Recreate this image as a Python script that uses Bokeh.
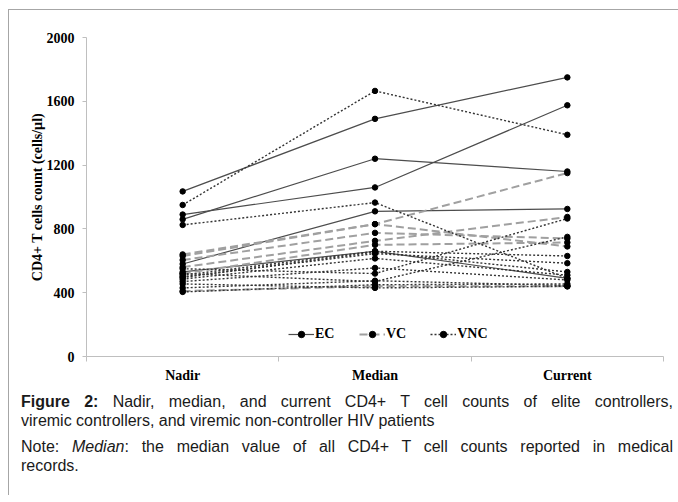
from bokeh.plotting import figure
from bokeh.models import Range1d, FixedTicker, Legend, LegendItem, ColumnDataSource, Div
from bokeh.layouts import column
from bokeh.embed import file_html
from bokeh.resources import INLINE

categories = ["Nadir", "Median", "Current"]

# Elite controllers (EC)
ec_nadir = [1035, 890, 860, 580, 530]
ec_median = [1490, 1060, 1240, 910, 660]
ec_current = [1750, 1575, 1160, 925, 490]

# Viremic controllers (VC)
vc_nadir = [640, 630, 605, 560, 520, 410]
vc_median = [830, 830, 775, 725, 700, 440]
vc_current = [1150, 690, 740, 875, 715, 440]

# Viremic non-controllers (VNC)
vnc_nadir = [950, 825, 550, 520, 510, 500, 495, 485, 470, 455, 430, 405]
vnc_median = [1665, 965, 520, 470, 660, 645, 655, 615, 555, 430, 475, 450]
vnc_current = [1390, 490, 865, 750, 630, 585, 530, 510, 480, 440, 445, 455]

y_ticks = [0, 400, 800, 1200, 1600, 2000]

x_pos = [i + 0.5 for i in range(len(categories))]
x_bounds = [float(i) for i in range(len(categories) + 1)]

p = figure(width=660, height=375, x_range=Range1d(0, len(categories)),
           y_range=Range1d(0, 2000), output_backend="svg", toolbar_location=None,
           min_border_left=77, min_border_right=6, min_border_top=27,
           min_border_bottom=27)
p.outline_line_color = None
p.xgrid.visible = False
p.ygrid.visible = False
p.background_fill_color = "white"
p.border_fill_color = "white"


def add_series(nadir, median, current, color, width, dash):
    xs, ys, px, py = [], [], [], []
    for a, b, c in zip(nadir, median, current):
        xs.append(x_pos)
        ys.append([a, b, c])
        px.extend(x_pos)
        py.extend([a, b, c])
    src = ColumnDataSource(dict(xs=xs, ys=ys))
    lr = p.multi_line("xs", "ys", source=src, line_color=color,
                      line_width=width, line_dash=dash)
    sr = p.scatter(px, py, size=5.5, fill_color="black", line_color="black")
    return [lr, sr]


ec_r = add_series(ec_nadir, ec_median, ec_current, "#4d4d4d", 1.2, "solid")
vc_r = add_series(vc_nadir, vc_median, vc_current, "#a0a0a0", 2, "8 4")
vnc_r = add_series(vnc_nadir, vnc_median, vnc_current, "#333333", 1.4, "2 2")

axis_col = "#bfbfbf"
serif = "Liberation Serif"

p.yaxis.ticker = FixedTicker(ticks=y_ticks)
p.yaxis.axis_line_color = axis_col
p.yaxis.major_tick_line_color = axis_col
p.yaxis.major_tick_out = 4
p.yaxis.major_tick_in = 0
p.yaxis.minor_tick_line_color = None
p.yaxis.major_label_standoff = 8
p.yaxis.major_label_text_font = serif
p.yaxis.major_label_text_font_style = "bold"
p.yaxis.major_label_text_font_size = "14px"
p.yaxis.major_label_text_color = "black"
p.yaxis.axis_label = "CD4+ T cells count (cells/µl)"
p.yaxis.axis_label_text_font = serif
p.yaxis.axis_label_text_font_style = "bold"
p.yaxis.axis_label_text_font_size = "14px"
p.yaxis.axis_label_text_color = "black"
p.yaxis.axis_label_standoff = -1

p.xaxis.ticker = FixedTicker(ticks=x_pos, minor_ticks=x_bounds)
p.xaxis.major_label_overrides = {x: c for x, c in zip(x_pos, categories)}
p.xaxis.axis_line_color = axis_col
p.xaxis.major_tick_line_color = None
p.xaxis.major_tick_out = 5
p.xaxis.major_tick_in = 0
p.xaxis.minor_tick_line_color = axis_col
p.xaxis.minor_tick_out = 5
p.xaxis.minor_tick_in = 0
p.xaxis.major_label_standoff = 6
p.xaxis.major_label_text_font = serif
p.xaxis.major_label_text_font_style = "bold"
p.xaxis.major_label_text_font_size = "14px"
p.xaxis.major_label_text_color = "black"

legend = Legend(items=[LegendItem(label="EC", renderers=ec_r),
                       LegendItem(label="VC", renderers=vc_r),
                       LegendItem(label="VNC", renderers=vnc_r)],
                orientation="horizontal", location=(202, 14),
                background_fill_alpha=0, border_line_color=None,
                padding=0, margin=0, spacing=24, glyph_width=26,
                glyph_height=16, label_standoff=1, label_height=16,
                label_text_font=serif, label_text_font_style="bold",
                label_text_font_size="14px", label_text_color="black")
p.add_layout(legend)

caption = """<div style="font-family:'Liberation Sans',Arial,sans-serif;font-size:16px;line-height:19px;color:#1a1a1a;width:652px;margin-left:7px;padding-top:2px;">
<div style="text-align:justify;text-align-last:justify;"><b>Figure 2:</b> Nadir, median, and current CD4+ T cell counts of elite controllers,</div>
<div>viremic controllers, and viremic non-controller HIV patients</div>
<div style="margin-top:7px;text-align:justify;text-align-last:justify;">Note: <i>Median</i>: the median value of all CD4+ T cell counts reported in medical</div>
<div>records.</div>
</div>"""
div = Div(text=caption, width=660, height=100)

layout = column(p, div, margin=(9, 0, 0, 8),
                styles={"border-left": "1px solid #a6a6a6",
                        "border-top": "1px solid #a6a6a6",
                        "background-color": "white"})

open("out.html", "w").write(file_html(layout, INLINE))
